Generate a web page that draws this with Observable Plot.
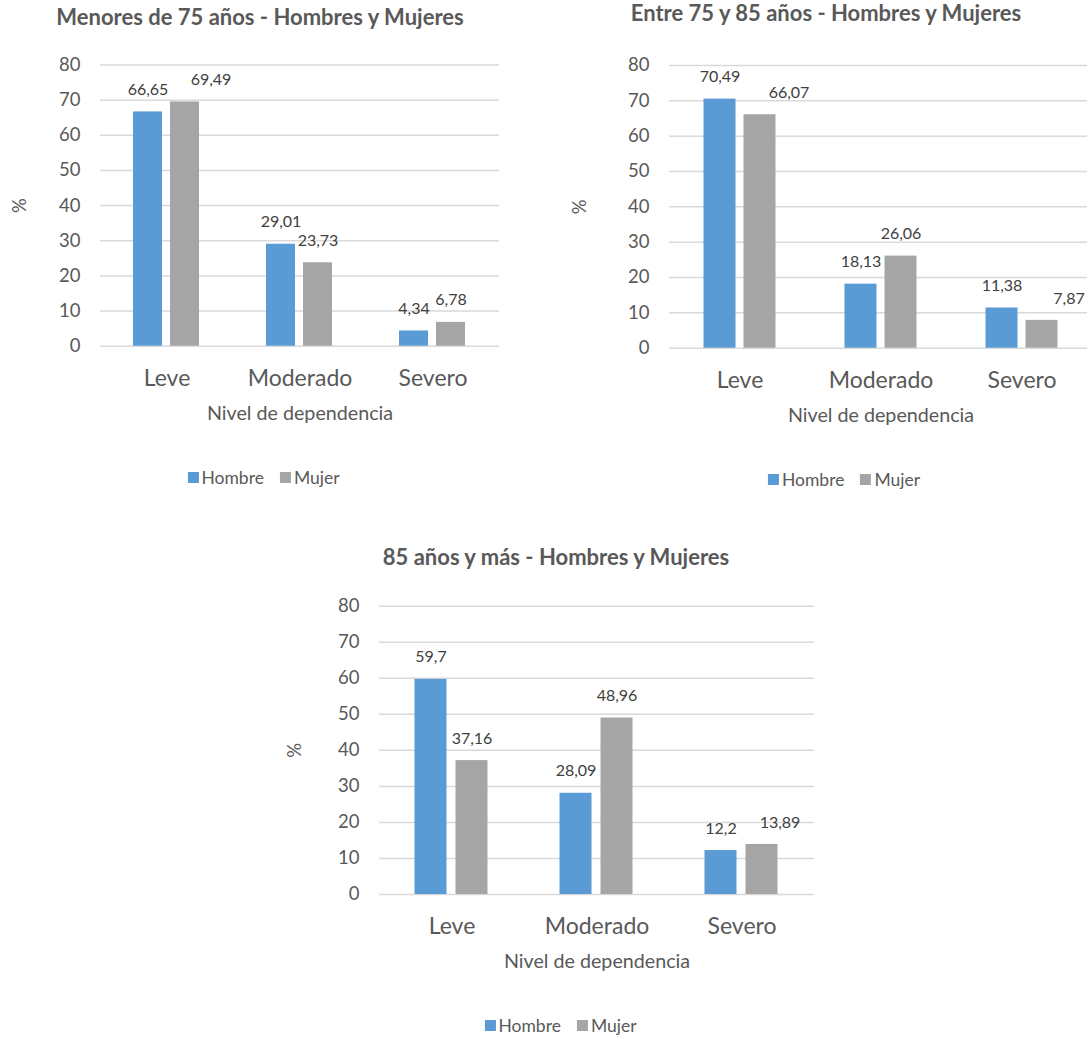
<!DOCTYPE html>
<html>
<head>
<meta charset="utf-8">
<script src="https://cdn.jsdelivr.net/npm/d3@7"></script>
<script src="https://cdn.jsdelivr.net/npm/@observablehq/plot@0.6"></script>
<style>
  html, body { margin: 0; padding: 0; background: #fff; width: 1087px; height: 1038px; overflow: hidden; }
  body { position: relative; font-family: Lato, "Open Sans", sans-serif; color: #595959; }
  .panel { position: absolute; }
  .panel svg { max-width: none !important; }
  .title { position: absolute; font-weight: 700; font-size: 22px; line-height: 22px; white-space: nowrap; transform: translateX(-50%); color: #595959; }
  .legend { position: absolute; display: flex; align-items: center; font-size: 17.5px; line-height: 18px; white-space: nowrap; transform: translate(-50%, -50%); color: #595959; }
  .legend .item { display: flex; align-items: center; }
  .legend .item + .item { margin-left: 16px; }
  .legend .sw { display: inline-block; width: 11px; height: 11px; margin-right: 3px; }
</style>
</head>
<body>
<script>
// Nivel de dependencia por sexo y grupo de edad (%)
const categories = ["Leve", "Moderado", "Severo"];
const sexes = ["Hombre", "Mujer"];
const yTicks = [0, 10, 20, 30, 40, 50, 60, 70, 80];

const titles = [
  "Menores de 75 años - Hombres y Mujeres",
  "Entre 75 y 85 años - Hombres y Mujeres",
  "85 años y más - Hombres y Mujeres"
];

const hombreMenores75 = [66.65, 29.01, 4.34];
const mujerMenores75 = [69.49, 23.73, 6.78];

const hombre75a85 = [70.49, 18.13, 11.38];
const mujer75a85 = [66.07, 26.06, 7.87];

const hombre85mas = [59.7, 28.09, 12.2];
const mujer85mas = [37.16, 48.96, 13.89];

const xTitle = "Nivel de dependencia";
const yTitle = "%";
const colors = ["#5B9BD5", "#A5A5A5"];

// Panel placement on the page (pixels)
const panels = [
  {
    title: titles[0], hombre: hombreMenores75, mujer: mujerMenores75,
    left: 0, top: 40, width: 530, height: 400,
    margin: {top: 24.5, right: 30, bottom: 94.3, left: 99},
    yLabelOffset: 87.5, titleX: 260, titleY: 5.5, legendX: 263.5, legendY: 477.5,
    nudges: {"Leve|Mujer": 26}
  },
  {
    title: titles[1], hombre: hombre75a85, mujer: mujer75a85,
    left: 545, top: 40, width: 555, height: 400,
    margin: {top: 25, right: 7.5, bottom: 92.3, left: 122.5},
    yLabelOffset: 97, titleX: 826, titleY: 2.2, legendX: 844, legendY: 479.5,
    nudges: {"Leve|Mujer": 29, "Severo|Mujer": 27}
  },
  {
    title: titles[2], hombre: hombre85mas, mujer: mujer85mas,
    left: 275, top: 580, width: 570, height: 410,
    margin: {top: 25.7, right: 31.5, bottom: 96, left: 103.5},
    yLabelOffset: 91.5, titleX: 556, titleY: 546.2, legendX: 560.5, legendY: 1025.5,
    nudges: {"Severo|Mujer": 18}
  }
];

const fmt = v => String(v).replace(".", ",");

function drawPanel(p) {
  const rows = categories.flatMap((c, i) => [
    {category: c, sex: sexes[0], value: p.hombre[i]},
    {category: c, sex: sexes[1], value: p.mujer[i]}
  ]);
  const key = d => `${d.category}|${d.sex}`;
  const labelStyle = {fx: "category", x: "sex", y: "value", text: d => fmt(d.value), dy: -22, fill: "#404040", fontSize: 16};

  const labelMarks = [Plot.text(rows.filter(d => !(key(d) in p.nudges)), labelStyle)];
  for (const [k, dx] of Object.entries(p.nudges)) {
    labelMarks.push(Plot.text(rows.filter(d => key(d) === k), {...labelStyle, dx}));
  }

  const chart = Plot.plot({
    width: p.width,
    height: p.height,
    marginTop: p.margin.top,
    marginRight: p.margin.right,
    marginBottom: p.margin.bottom,
    marginLeft: p.margin.left,
    style: {fontFamily: "Lato, 'Open Sans', sans-serif", color: "#595959", background: "transparent", overflow: "visible", maxWidth: "none"},
    fx: {domain: categories, padding: 0},
    x: {domain: sexes, paddingInner: 0.21, paddingOuter: 0.86, axis: null},
    y: {domain: [0, 80]},
    color: {domain: sexes, range: colors},
    marks: [
      Plot.gridY(yTicks, {stroke: "#D9D9D9", strokeOpacity: 1, strokeWidth: 1.5}),
      Plot.axisY(yTicks, {
        tickSize: 0, tickPadding: 20, fontSize: 18.5,
        label: yTitle, labelAnchor: "center", labelOffset: p.yLabelOffset, labelArrow: false
      }),
      Plot.axisFx({anchor: "bottom", tickSize: 0, tickPadding: 23.3, fontSize: 23, label: null}),
      Plot.axisFx({
        anchor: "bottom", tickSize: 0, tickFormat: () => "", fontSize: 19.7,
        label: xTitle, labelAnchor: "center", labelOffset: 73.4, labelArrow: false
      }),
      Plot.barY(rows, {fx: "category", x: "sex", y: "value", fill: "sex"}),
      ...labelMarks
    ]
  });

  const wrap = document.createElement("div");
  wrap.className = "panel";
  wrap.style.left = `${p.left}px`;
  wrap.style.top = `${p.top}px`;
  wrap.style.width = `${p.width}px`;
  wrap.appendChild(chart);
  document.body.appendChild(wrap);

  const title = document.createElement("div");
  title.className = "title";
  title.style.left = `${p.titleX}px`;
  title.style.top = `${p.titleY}px`;
  title.textContent = p.title;
  document.body.appendChild(title);

  const legend = document.createElement("div");
  legend.className = "legend";
  legend.style.left = `${p.legendX}px`;
  legend.style.top = `${p.legendY}px`;
  sexes.forEach((s, i) => {
    const item = document.createElement("div");
    item.className = "item";
    const sw = document.createElement("span");
    sw.className = "sw";
    sw.style.background = colors[i];
    const label = document.createElement("span");
    label.textContent = s;
    item.append(sw, label);
    legend.appendChild(item);
  });
  document.body.appendChild(legend);
}

panels.forEach(drawPanel);
</script>
</body>
</html>
